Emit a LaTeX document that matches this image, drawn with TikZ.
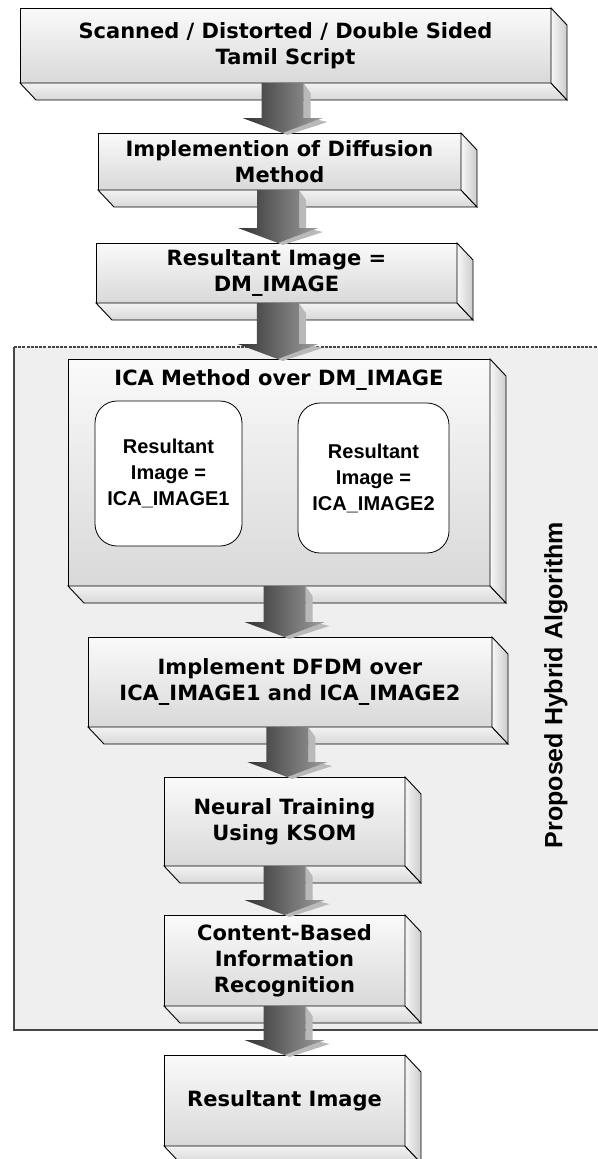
\documentclass[tikz,border=0pt]{standalone}
\usepackage{fontspec}
\setmainfont{DejaVu Sans}
\newfontfamily\narrowfont{Liberation Sans}
\usetikzlibrary{calc, positioning}
\definecolor{panelgray}{RGB}{239,239,239}
\definecolor{panelline}{RGB}{70,70,70}

\newcommand{\boxdepth}[1]{%
  \draw[line width=0.9pt, top color=gray!10, bottom color=gray!30]
    (#1.south west) -- (#1.south east) -- ([shift={(16pt,-17pt)}]#1.south east)
    -- ([shift={(16pt,-17pt)}]#1.south west) -- cycle;
  \draw[line width=0.9pt, left color=gray!6, right color=gray!40]
    (#1.north east) -- ([shift={(16pt,-17pt)}]#1.north east)
    -- ([shift={(16pt,-17pt)}]#1.south east) -- (#1.south east) -- cycle;}

\newcommand{\blockarrow}[2]{%
  \fill[gray!55] let \p1=(#1.south), \p2=(#2.north), \p3=($(\p1)!0.5!(\p2)$) in
    (\x3+21pt,\y1) -- (\x3+28pt,\y1-10pt) -- (\x3+28pt,\y2+15pt) -- (\x3+45pt,\y2+11pt)
    -- (\x3+5pt,\y2-2pt) -- (\x3,\y2) -- (\x3+40pt,\y2+15pt) -- (\x3+21pt,\y2+15pt) -- cycle;
  \shade[left color=black!80, right color=black!38] let \p1=(#1.south), \p2=(#2.north), \p3=($(\p1)!0.5!(\p2)$) in
    (\x3-21pt,\y1) -- (\x3+21pt,\y1) -- (\x3+21pt,\y2+15pt) -- (\x3+40pt,\y2+15pt)
    -- (\x3,\y2) -- (\x3-40pt,\y2+15pt) -- (\x3-21pt,\y2+15pt) -- cycle;}

\begin{document}
\begin{tikzpicture}[x=1pt, y=-1pt,
    stepbox/.style={draw=black, line width=0.9pt, top color=gray!4, bottom color=gray!30,
      inner sep=0pt, outer sep=0pt, align=center, anchor=north west,
      font=\fontsize{21}{26}\selectfont\bfseries},
    resultbox/.style={draw=black, line width=0.8pt, fill=white, rounded corners=22pt,
      inner sep=0pt, outer sep=0pt, align=center, anchor=north west,
      font=\narrowfont\fontsize{20}{26}\selectfont\bfseries}]
    \useasboundingbox (0,0) rectangle (597,1159);

    % hybrid algorithm panel
    \fill[panelgray] (14,347) rectangle (605,1030);
    \draw[panelline, line width=1.5pt, dash pattern=on 3pt off 1.2pt] (14,347) -- (605,347);
    \draw[panelline, line width=1.6pt] (14,347) -- (14,1030) -- (605,1030);

    \node[stepbox, minimum width=531pt, minimum height=75pt] (scan) at (20,8)
        {Scanned / Distorted / Double Sided\\Tamil Script};
    \node[stepbox, minimum width=363pt, minimum height=57pt] (diffusion) at (98,133)
        {Implemention of Diffusion\\Method};
    \node[stepbox, minimum width=361pt, minimum height=60pt] (dmimage) at (96,243)
        {Resultant Image =\\DM\_IMAGE};
    \node[stepbox, minimum width=422pt, minimum height=227pt] (ica) at (68,359) {};
    \node[stepbox, minimum width=404pt, minimum height=90pt] (dfdm) at (88,637)
        {Implement DFDM over\\ICA\_IMAGE1 and ICA\_IMAGE2};
    \node[stepbox, minimum width=241pt, minimum height=89pt] (neural) at (164,777)
        {Neural Training\\Using KSOM};
    \node[stepbox, minimum width=241pt, minimum height=91pt] (content) at (164,915)
        {Content-Based\\Information\\Recognition};
    \node[stepbox, minimum width=241pt, minimum height=91pt] (result) at (164,1055)
        {Resultant Image};

    \foreach \b in {scan, diffusion, dmimage, ica, dfdm, neural, content, result}
        \boxdepth{\b};

    \node[font=\fontsize{21}{26}\selectfont\bfseries, anchor=base] (icatitle)
        at ($(ica.north)+(0pt,-26pt)$) {ICA Method over DM\_IMAGE};
    \node[resultbox, minimum width=147pt, minimum height=145pt] (icaone) at (95,401)
        {Resultant\\Image =\\ICA\_IMAGE1};
    \node[resultbox, minimum width=151pt, minimum height=150pt] (icatwo) at (298,403)
        {Resultant\\Image =\\ICA\_IMAGE2};

    \foreach \a/\b in {scan/diffusion, diffusion/dmimage, dmimage/ica, ica/dfdm,
                       dfdm/neural, neural/content, content/result}
        \blockarrow{\a}{\b};

    \node[font=\narrowfont\fontsize{25}{30}\selectfont\bfseries, rotate=90] (hybrid)
        at (556,685) {Proposed Hybrid Algorithm};
\end{tikzpicture}
\end{document}
